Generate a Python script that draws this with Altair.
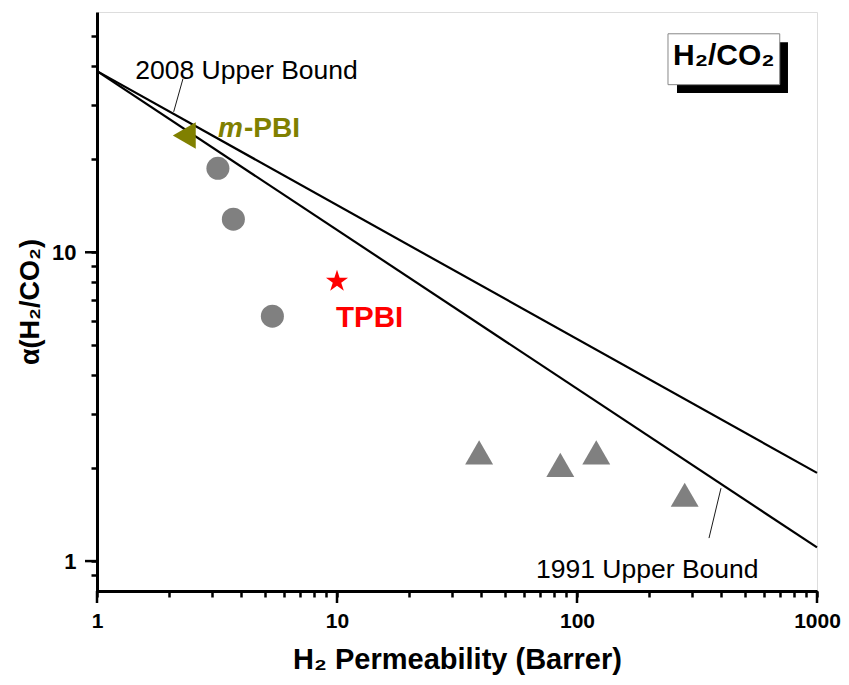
import altair as alt
import pandas as pd

# ---- data ----
circle_x = [3.19, 3.70, 5.38]
circle_y = [18.7, 12.8, 6.21]
triangle_x = [39.1, 85.2, 120.3, 281.0]
triangle_y = [2.25, 2.05, 2.25, 1.64]
mpbi_x = [2.31]
mpbi_y = [23.9]
tpbi_x = [10.0]
tpbi_y = [8.05]
bound_x = [1, 1000]
bound_2008_y = [38.6, 1.93]
bound_1991_y = [38.6, 1.107]

x_ticks = [1, 2, 3, 4, 5, 6, 7, 8, 9, 10, 20, 30, 40, 50, 60, 70, 80, 90,
           100, 200, 300, 400, 500, 600, 700, 800, 900, 1000]
y_ticks = [0.9, 1, 2, 3, 4, 5, 6, 7, 8, 9, 10, 20, 30, 40, 50]
x_major = [1, 10, 100, 1000]
y_major = [1, 10]

# annotation anchors (data coordinates)
lead2008_x = [2.282, 2.087]
lead2008_y = [36.5, 28.5]
lead1991_x = [398.0, 354.8]
lead1991_y = [1.722, 1.187]

FONT = "Liberation Sans"
W, H = 720, 579

x_test = "indexof([1,10,100,1000], datum.value) >= 0"
y_test = "indexof([1,10], datum.value) >= 0"

xaxis = alt.Axis(
    values=x_ticks,
    labelExpr=f"{x_test} ? format(datum.value, 'd') : ''",
    tickSize=6, tickWidth=2.5, tickColor="black",
    domainWidth=3, domainColor="black",
    labelFont=FONT, labelFontSize=21, labelFontWeight="bold", labelColor="black",
    labelPadding=13, labelFlush=False, labelOverlap=False,
    titleFont=FONT, titleFontSize=29, titleFontWeight="bold", titleColor="black",
    titlePadding=14, grid=False,
)
yaxis = alt.Axis(
    values=y_ticks,
    labelExpr=f"{y_test} ? format(datum.value, 'd') : ''",
    tickSize=6, tickWidth=2.5, tickColor="black",
    domainWidth=3, domainColor="black",
    labelFont=FONT, labelFontSize=22, labelFontWeight="bold", labelColor="black",
    labelPadding=15, labelFlush=False, labelOverlap=False,
    titleFont=FONT, titleFontSize=27, titleFontWeight="bold", titleColor="black",
    titlePadding=7, grid=False,
)

xscale = alt.Scale(type="log", domain=[1, 1000], nice=False)
yscale = alt.Scale(type="log", domain=[0.8, 60], nice=False)

XT = "H₂ Permeability (Barrer)"
YT = "α(H₂/CO₂)"


def ex(f="x"):
    return alt.X(f"{f}:Q", scale=xscale, axis=xaxis, title=XT)


def ey(f="y"):
    return alt.Y(f"{f}:Q", scale=yscale, axis=yaxis, title=YT)


def enc():
    return dict(x=ex(), y=ey())


df_b08 = pd.DataFrame({"x": bound_x, "y": bound_2008_y})
df_b91 = pd.DataFrame({"x": bound_x, "y": bound_1991_y})
df_l08 = pd.DataFrame({"x": lead2008_x, "y": lead2008_y})
df_l91 = pd.DataFrame({"x": lead1991_x, "y": lead1991_y})
df_circ = pd.DataFrame({"x": circle_x, "y": circle_y})
df_tri = pd.DataFrame({"x": triangle_x, "y": triangle_y})
df_mpbi = pd.DataFrame({"x": mpbi_x, "y": mpbi_y})
df_tpbi = pd.DataFrame({"x": tpbi_x, "y": tpbi_y})
df_xmaj = pd.DataFrame({"x": x_major})
df_ymaj = pd.DataFrame({"y": y_major})

# long major ticks (axis ticks are the short minor ones)
xmaj = alt.Chart(df_xmaj).mark_rule(color="black", strokeWidth=2.5).encode(
    x=ex(), y=alt.value(H), y2=alt.value(H + 12))
ymaj = alt.Chart(df_ymaj).mark_rule(color="black", strokeWidth=2.5).encode(
    y=ey(), x=alt.value(-12), x2=alt.value(0))

line08 = alt.Chart(df_b08).mark_line(color="black", strokeWidth=2.2).encode(**enc())
line91 = alt.Chart(df_b91).mark_line(color="black", strokeWidth=2.2).encode(**enc())
lead08 = alt.Chart(df_l08).mark_line(color="black", strokeWidth=0.9).encode(**enc())
lead91 = alt.Chart(df_l91).mark_line(color="black", strokeWidth=0.9).encode(**enc())

circles = alt.Chart(df_circ).mark_point(
    shape="circle", filled=True, size=530, color="#808080", opacity=1
).encode(**enc())
triangles = alt.Chart(df_tri).mark_point(
    shape="triangle-up", filled=True, size=780, color="#808080", opacity=1
).encode(**enc())
mpbi = alt.Chart(df_mpbi).mark_point(
    shape="triangle-left", filled=True, size=700, color="#808000", opacity=1
).encode(**enc())
STAR = ("M0,-1L0.225,-0.309L0.951,-0.309L0.363,0.118L0.588,0.809L0,0.382"
        "L-0.588,0.809L-0.363,0.118L-0.951,-0.309L-0.225,-0.309Z")
tpbi = alt.Chart(df_tpbi).mark_point(
    shape=STAR, filled=True, size=540, color="#ff0000", opacity=1
).encode(**enc())

# text annotations
df_t08 = pd.DataFrame({"x": [1.444], "y": [36.5], "t": ["2008 Upper Bound"]})
df_t91 = pd.DataFrame({"x": [67.5], "y": [0.879], "t": ["1991 Upper Bound"]})
df_tm = pd.DataFrame({"x": [3.19], "y": [23.7], "t": ["m"]})
df_tp = pd.DataFrame({"x": [3.19], "y": [23.7], "t": ["-PBI"]})
df_tt = pd.DataFrame({"x": [9.9], "y": [5.73], "t": ["TPBI"]})

t08 = alt.Chart(df_t08).mark_text(font=FONT, fontSize=26.5, color="black", align="left",
                                  baseline="alphabetic").encode(text="t:N", **enc())
t91 = alt.Chart(df_t91).mark_text(font=FONT, fontSize=26.5, color="black", align="left",
                                  baseline="alphabetic").encode(text="t:N", **enc())
tm = alt.Chart(df_tm).mark_text(font=FONT, fontSize=28, fontWeight="bold", fontStyle="italic",
                                color="#808000", align="left",
                                baseline="alphabetic").encode(text="t:N", **enc())
tp = alt.Chart(df_tp).mark_text(font=FONT, fontSize=28, fontWeight="bold", color="#808000",
                                align="left", baseline="alphabetic", dx=26).encode(text="t:N", **enc())
tt = alt.Chart(df_tt).mark_text(font=FONT, fontSize=29.5, fontWeight="bold", color="#ff0000",
                                align="left", baseline="alphabetic").encode(text="t:N", **enc())

# label box "H2/CO2" (data coordinates of its corners)
df_shadow = pd.DataFrame({"x": [261.0], "x2": [757.0], "y": [47.9], "y2": [32.8]})
df_box = pd.DataFrame({"x": [239.4], "x2": [699.5], "y": [51.0], "y2": [34.9]})
df_boxt = pd.DataFrame({"x": [409.0], "y": [40.3], "t": ["H₂/CO₂"]})

shadow = alt.Chart(df_shadow).mark_rect(color="black").encode(
    x2="x2:Q", y2="y2:Q", **enc())
box = alt.Chart(df_box).mark_rect(fill="white", stroke="#888888", strokeWidth=1).encode(
    x2="x2:Q", y2="y2:Q", **enc())
boxt = alt.Chart(df_boxt).mark_text(font=FONT, fontSize=30, fontWeight="bold", color="black",
                                    align="center", baseline="alphabetic").encode(text="t:N", **enc())

chart = alt.layer(
    xmaj, ymaj,
    line08, line91, lead08, lead91,
    circles, triangles, mpbi, tpbi,
    t08, t91, tm, tp, tt,
    shadow, box, boxt,
).properties(
    width=W, height=H,
    autosize=alt.AutoSizeParams(type="none"),
    padding={"left": 89, "top": 4, "right": 24, "bottom": 85},
).configure_view(
    stroke="black", strokeWidth=2.5
).configure(background="white")

chart.save("out.html", embed_options={"renderer": "svg", "actions": False})
